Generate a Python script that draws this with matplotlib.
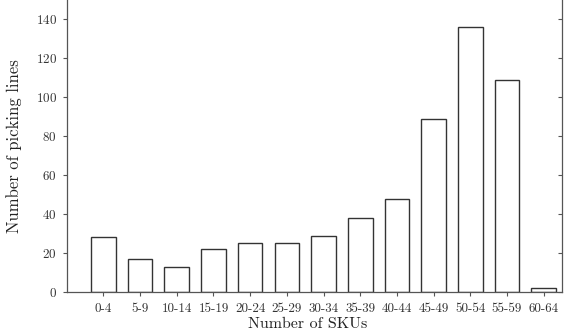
import matplotlib
matplotlib.use("Agg")
import matplotlib.pyplot as plt

categories = ["0-4", "5-9", "10-14", "15-19", "20-24", "25-29", "30-34",
              "35-39", "40-44", "45-49", "50-54", "55-59", "60-64"]
values = [28, 17, 13, 22, 25, 25, 29, 38, 48, 89, 136, 109, 2]
yticks = [0, 20, 40, 60, 80, 100, 120, 140]

plt.rcParams['font.family'] = ['cmr10', 'DejaVu Serif']
plt.rcParams['axes.formatter.use_mathtext'] = True

fig = plt.figure(figsize=(5.73, 3.32), dpi=100)
ax = fig.add_axes([66.7/573, (332-292)/332, (562-66.7)/573, 292/332])

x = list(range(len(categories)))
ax.bar(x, values, width=0.67, facecolor='white', edgecolor='#333333', linewidth=1.0)

ax.set_xlim(-1, 12.5)
ax.set_ylim(0, 150)
ax.set_xticks(x)
ax.set_xticklabels(categories)
ax.set_yticks(yticks)
ax.tick_params(axis='both', labelsize=9.4, colors='#555555', labelcolor='#333333',
               length=3, width=0.8)
ax.tick_params(axis='y', which='both', direction='out', pad=4)
ax.tick_params(axis='x', direction='out', pad=5)

# right spine ticks pointing inward
ax2 = ax.twinx()
ax2.set_ylim(ax.get_ylim())
ax2.set_yticks(yticks)
ax2.tick_params(axis='y', direction='in', labelright=False, length=3, width=0.8, colors='#555555')
for s in ['top', 'left', 'bottom']:
    ax2.spines[s].set_visible(False)
ax2.spines['right'].set_color('#555555')
ax2.spines['right'].set_linewidth(0.9)

ax.spines['top'].set_visible(False)
ax.spines['right'].set_visible(False)
for s in ['left', 'bottom']:
    ax.spines[s].set_color('#555555')
    ax.spines[s].set_linewidth(0.9)

ax.set_ylabel("Number of picking lines", fontsize=12, color='#222222', labelpad=10)
fig.text(308/573, 0.5/332, "Number of SKUs", fontsize=11.5, color='#222222',
         ha='center', va='bottom')

fig.savefig("out.png", dpi=100)
